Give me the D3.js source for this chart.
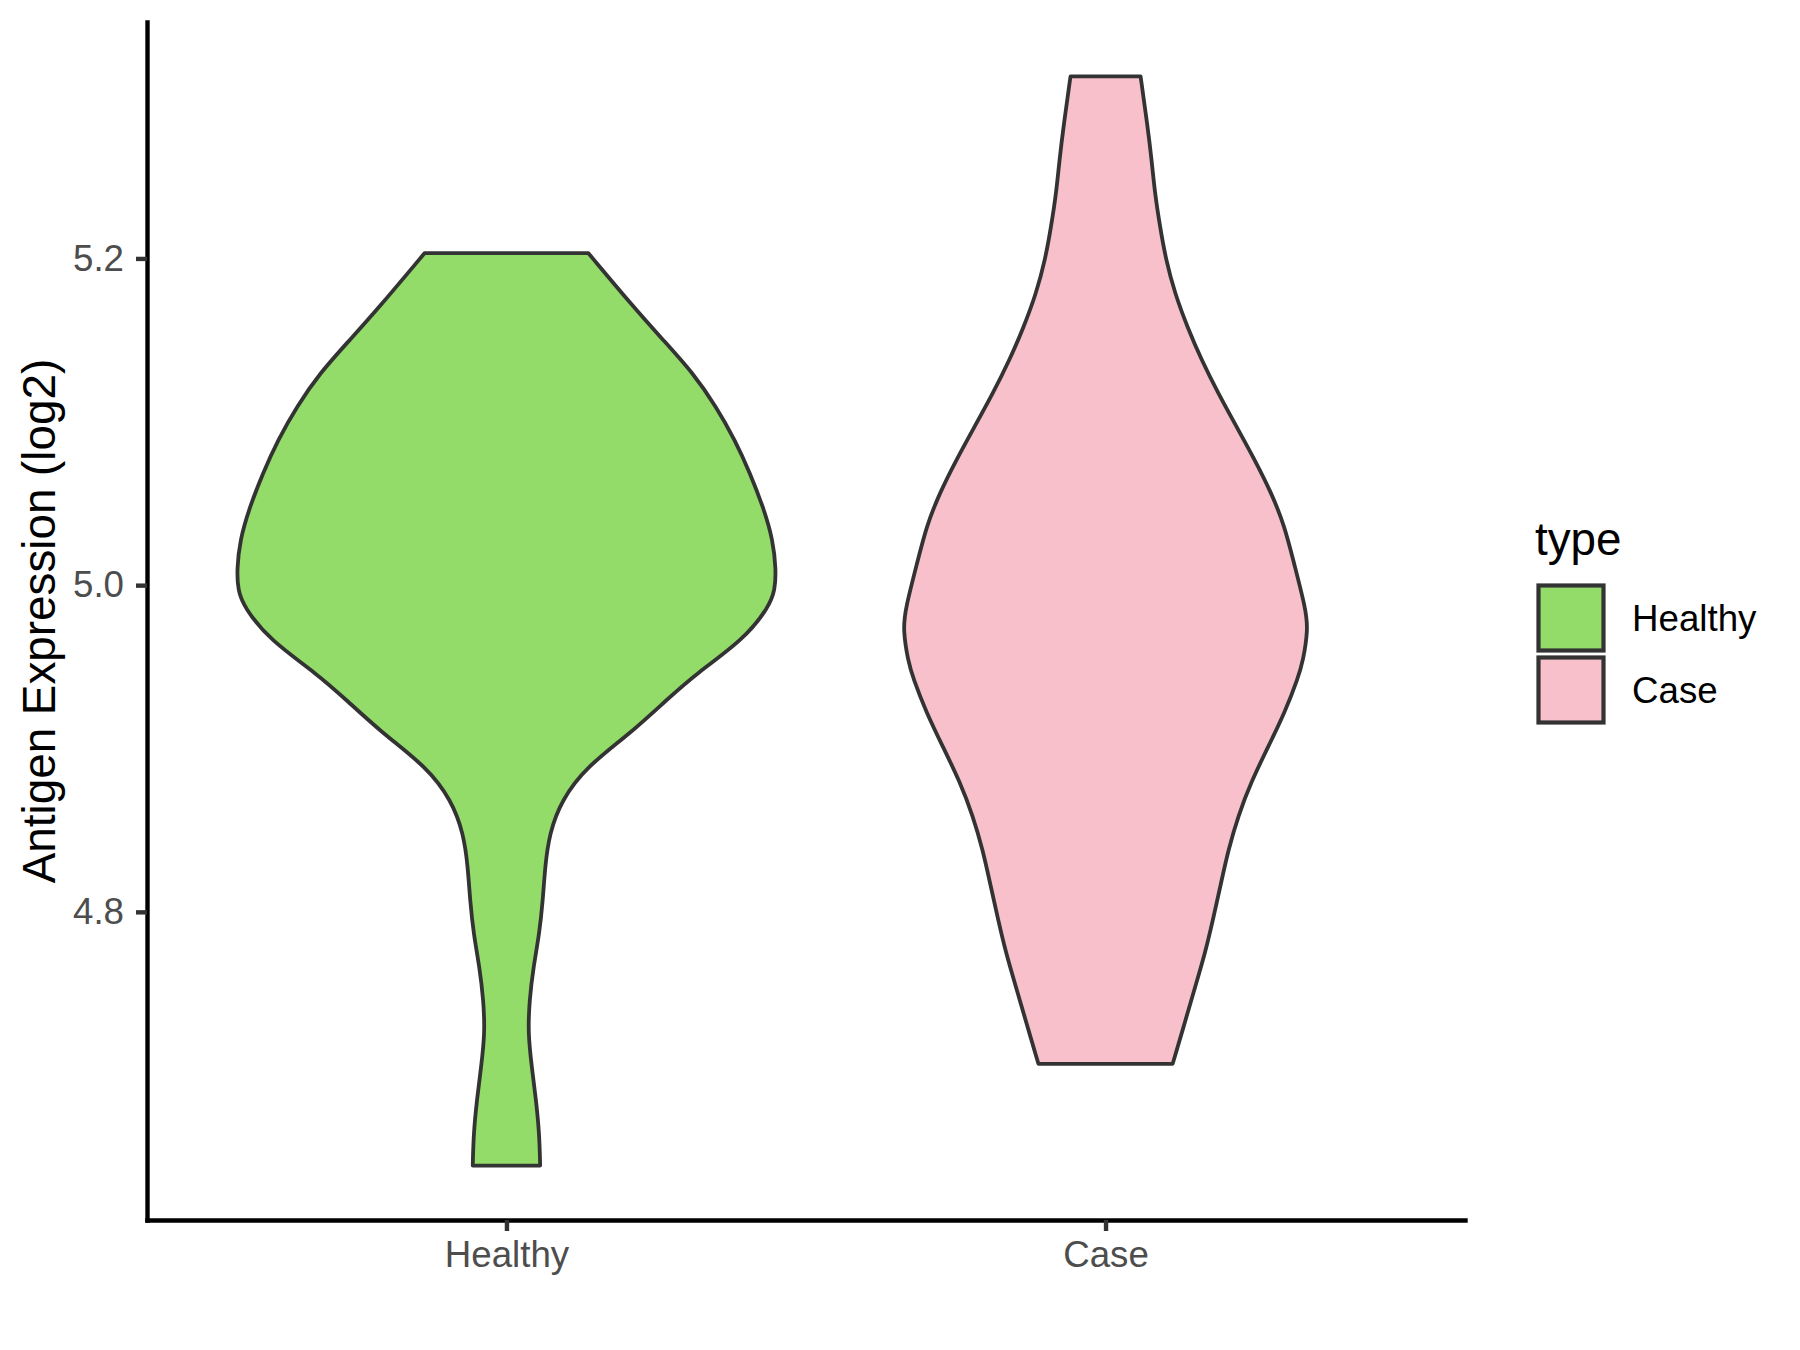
<!DOCTYPE html>
<html>
<head>
<meta charset="utf-8">
<script src="https://cdn.jsdelivr.net/npm/d3@7"></script>
<style>
  body { margin: 0; background: #fff; }
  svg text { font-family: "Liberation Sans", Arial, sans-serif; }
</style>
</head>
<body>
<div id="chart"></div>
<script>
// categories and legend title
const categories = ["Healthy", "Case"];
const legendTitle = "type";
const yTitle = "Antigen Expression (log2)";
const yTicks = [4.8, 5.0, 5.2];

// violin outlines: expression value and relative density
const healthyExpr = [5.2032, 5.1705, 5.1501, 5.1297, 5.1092, 5.0888, 5.0684, 5.0480, 5.0276, 5.0092,
  4.9969, 4.9867, 4.9663, 4.9459, 4.9296, 4.9092, 4.8887, 4.8683, 4.8479, 4.8274,
  4.8070, 4.7866, 4.7662, 4.7458, 4.7254, 4.7049, 4.6845, 4.6641, 4.6447];
const healthyDensity = [0.304, 0.470, 0.581, 0.693, 0.778, 0.848, 0.904, 0.952, 0.989, 1.000,
  0.996, 0.974, 0.878, 0.704, 0.593, 0.459, 0.296, 0.204, 0.159, 0.143,
  0.135, 0.122, 0.100, 0.085, 0.080, 0.094, 0.110, 0.122, 0.125];

const caseExpr = [5.3114, 5.2807, 5.2603, 5.2399, 5.2195, 5.1991, 5.1787, 5.1582, 5.1378, 5.1174,
  5.0970, 5.0766, 5.0562, 5.0357, 5.0153, 4.9854, 4.9727, 4.9538, 4.9432, 4.9221,
  4.9010, 4.8799, 4.8588, 4.8377, 4.8166, 4.7955, 4.7745, 4.7533, 4.7322, 4.7070];
const caseDensity = [0.130, 0.156, 0.171, 0.183, 0.202, 0.224, 0.257, 0.303, 0.356, 0.418,
  0.486, 0.554, 0.616, 0.665, 0.696, 0.743, 0.751, 0.733, 0.714, 0.665,
  0.603, 0.541, 0.492, 0.455, 0.427, 0.399, 0.369, 0.331, 0.294, 0.249];

const fills = {Healthy: "#93DC6A", Case: "#F7C0CB"};

const w = 1800, h = 1350;
const panel = {left: 147, right: 1465, top: 22, bottom: 1220};

const svg = d3.select("#chart").append("svg")
  .attr("width", w)
  .attr("height", h);

const series = [
  {name: "Healthy", expr: healthyExpr, dens: healthyDensity},
  {name: "Case", expr: caseExpr, dens: caseDensity}
];

// y domain like ggplot: data range plus 5% each side
const allExpr = healthyExpr.concat(caseExpr);
const lo = d3.min(allExpr), hi = d3.max(allExpr), pad = (hi - lo) * 0.05;

const y = d3.scaleLinear()
  .domain([lo - pad, hi + pad])
  .range([panel.bottom, panel.top]);

const x = d3.scalePoint()
  .domain(categories)
  .range([panel.left, panel.right])
  .padding(0.6);

const halfW = d3.scaleLinear().domain([0, 1]).range([0, 0.45 * x.step()]);

// violins
series.forEach(s => {
  const cx = x(s.name);
  const pts = s.expr.map((v, i) => ({v: v, d: s.dens[i]}));
  const area = d3.area()
    .y(d => y(d.v))
    .x0(d => cx - halfW(d.d))
    .x1(d => cx + halfW(d.d))
    .curve(d3.curveBasis);
  svg.append("path")
    .attr("d", area(pts) + "Z")
    .attr("fill", fills[s.name])
    .attr("stroke", "#333333")
    .attr("stroke-width", 3.8)
    .attr("stroke-linejoin", "round");
});

// axes
const yAxis = svg.append("g")
  .attr("transform", `translate(${panel.left},0)`)
  .call(d3.axisLeft(y).tickValues(yTicks).tickFormat(d3.format(".1f")).tickSize(11).tickSizeOuter(0).tickPadding(12));

const xAxis = svg.append("g")
  .attr("transform", `translate(0,${panel.bottom})`)
  .call(d3.axisBottom(x).tickSize(11).tickSizeOuter(0).tickPadding(10));

[yAxis, xAxis].forEach(g => {
  g.select(".domain").attr("stroke", "#000").attr("stroke-width", 4.4).attr("stroke-linecap", "square");
  g.selectAll(".tick line").attr("stroke", "#333333").attr("stroke-width", 4.4);
  g.selectAll(".tick text").attr("fill", "#4D4D4D").style("font-size", "36.7px");
});

// y title
svg.append("text")
  .attr("transform", `translate(55,${(panel.top + panel.bottom) / 2}) rotate(-90)`)
  .attr("text-anchor", "middle")
  .style("font-size", "45.8px")
  .attr("fill", "#000")
  .text(yTitle);

// legend
const legend = svg.append("g").attr("transform", "translate(1535,0)");
legend.append("text")
  .attr("x", 0)
  .attr("y", 555)
  .style("font-size", "45.8px")
  .text(legendTitle);

categories.forEach((c, i) => {
  const top = 582 + i * 72;
  legend.append("rect")
    .attr("x", 3.5)
    .attr("y", top + 3.5)
    .attr("width", 65)
    .attr("height", 65)
    .attr("fill", fills[c])
    .attr("stroke", "#333333")
    .attr("stroke-width", 4.2);
  legend.append("text")
    .attr("x", 97)
    .attr("y", top + 36 + 13)
    .style("font-size", "36.7px")
    .text(c);
});
</script>
</body>
</html>
